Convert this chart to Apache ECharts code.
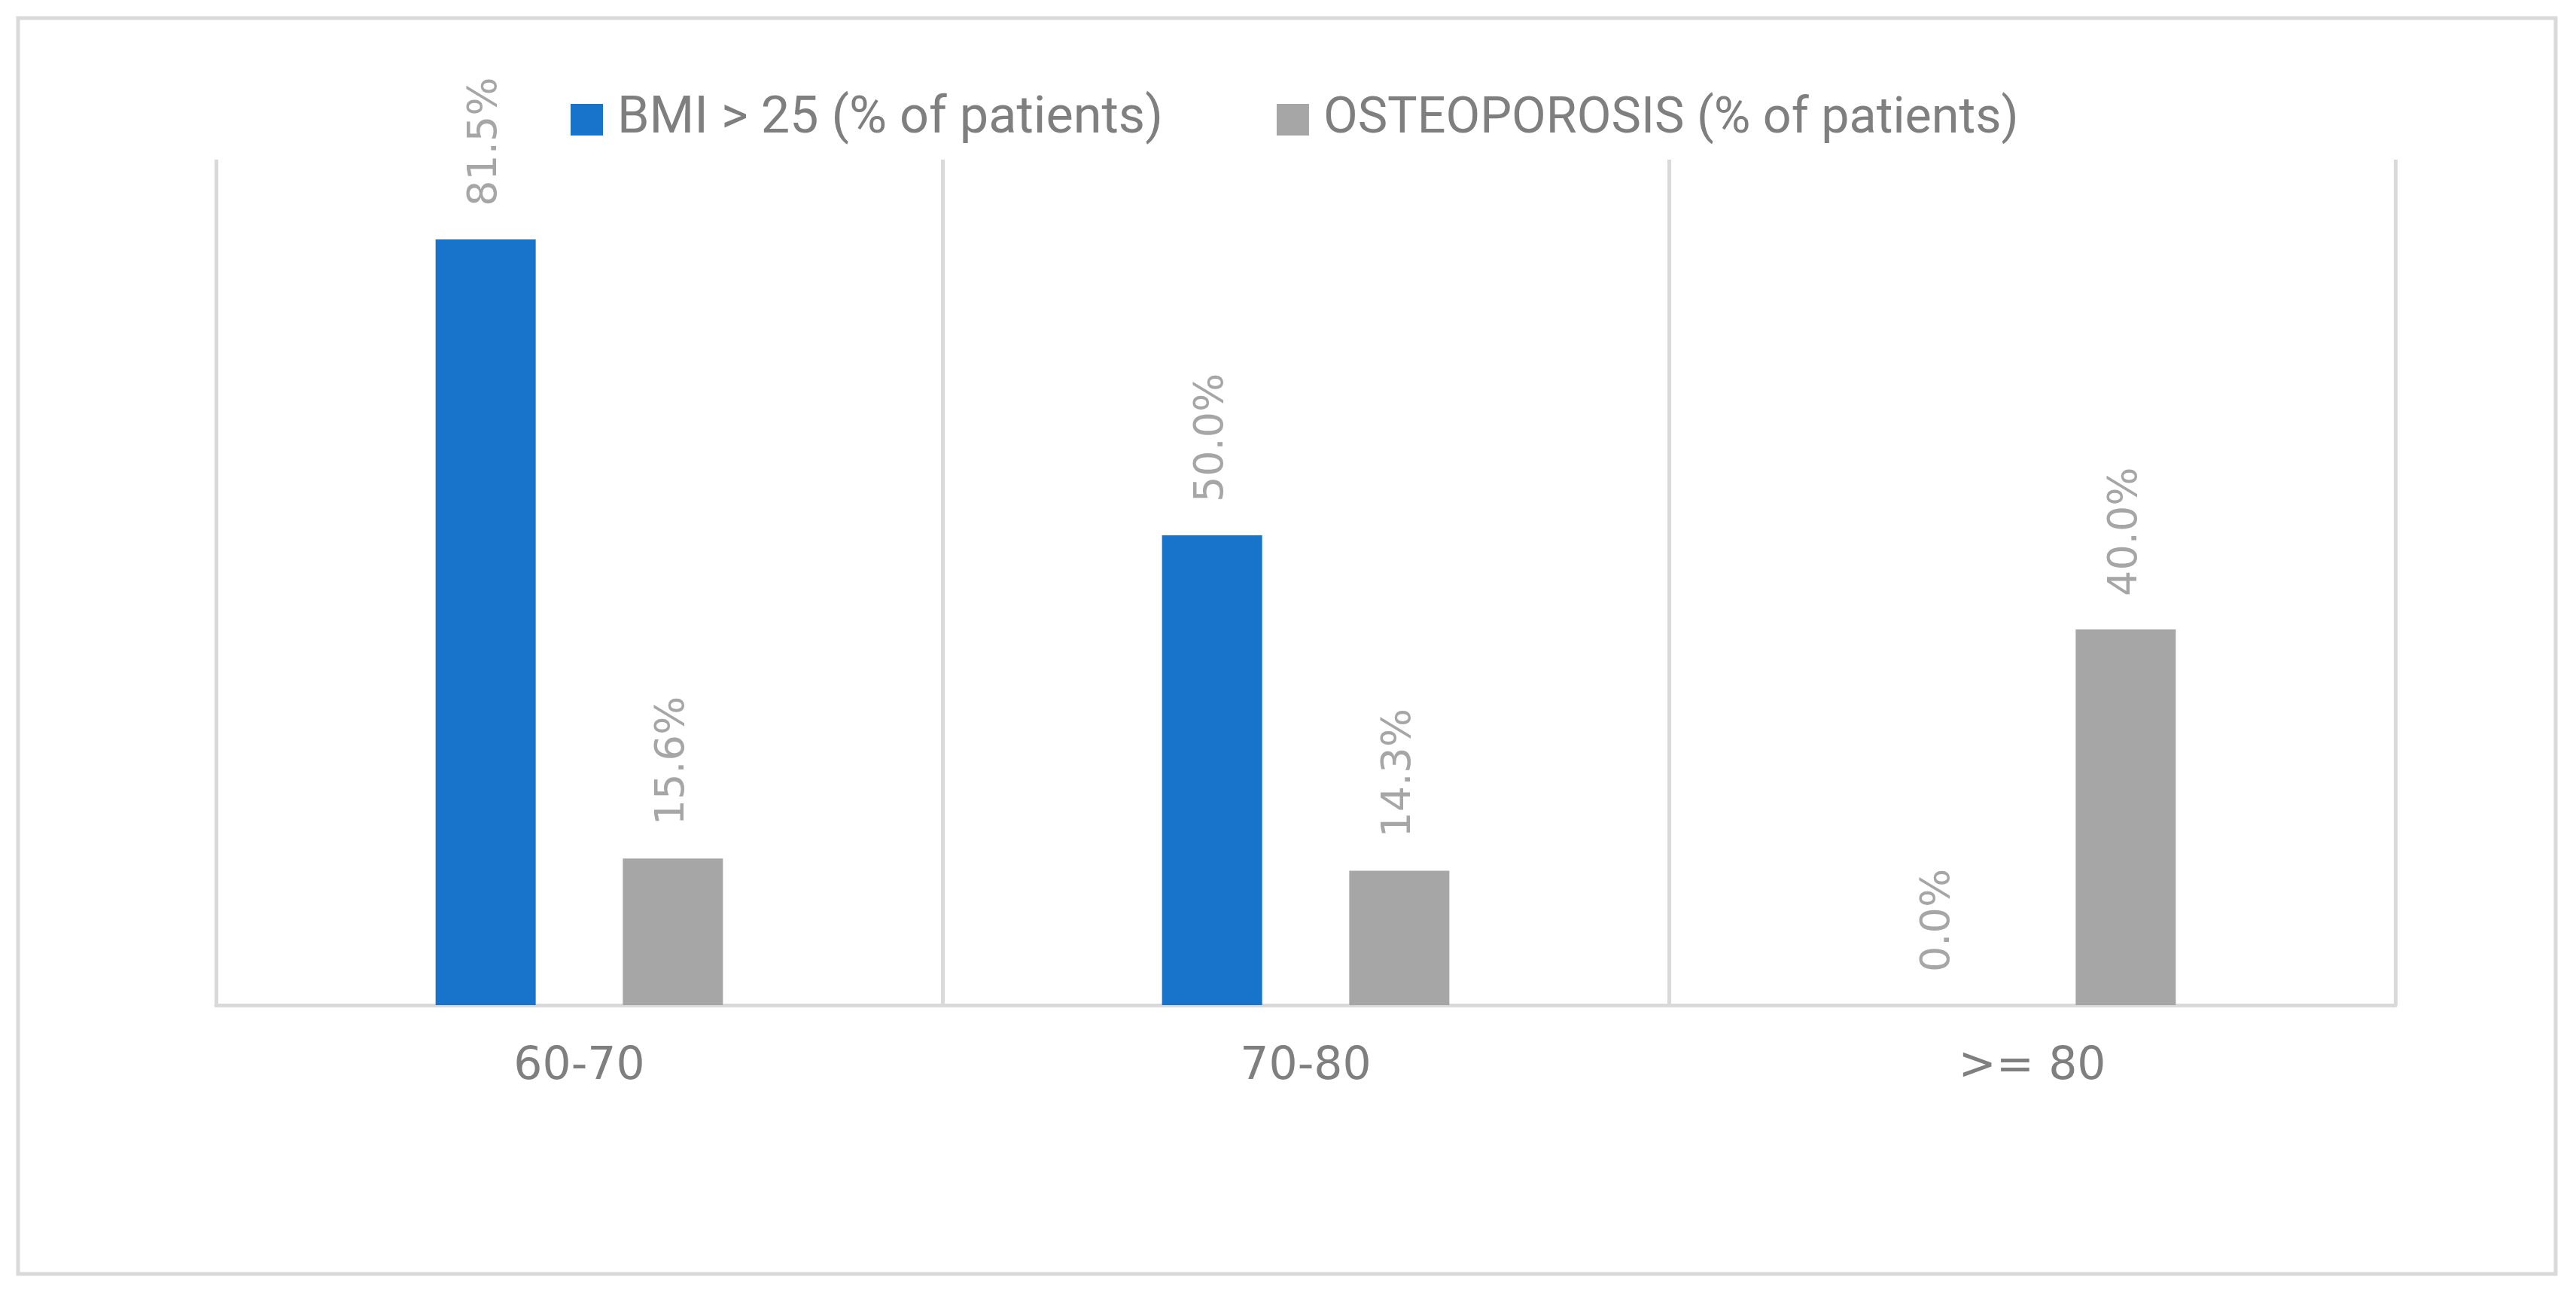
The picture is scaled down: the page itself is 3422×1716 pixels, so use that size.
<!DOCTYPE html>
<html><head><meta charset="utf-8">
<script src="https://cdn.jsdelivr.net/npm/echarts@6/dist/echarts.min.js"></script>
<style>html,body{margin:0;padding:0;background:#fff}#c{width:3422px;height:1716px}</style>
</head><body><div id="c"></div>
<script>
const categories = ['60-70', '70-80', '>= 80'];
const bmiValues = [81.5, 50.0, 0.0];
const osteoValues = [15.6, 14.3, 40.0];
const seriesNames = ['BMI > 25 (% of patients)', 'OSTEOPOROSIS (% of patients)'];
const yMin = 0, yMax = 90;

const legendFont = 'Roboto';
function fitSize(text, font, targetWidth) {
  const ctx = document.createElement('canvas').getContext('2d');
  ctx.font = '100px ' + font;
  return 100 * targetWidth / ctx.measureText(text).width;
}
const legendSize0 = fitSize(seriesNames[0], legendFont, 725);
const legendSize1 = fitSize(seriesNames[1], legendFont, 924);

const labelCfg = {
  show: true, position: 'top', distance: 44, rotate: 90,
  align: 'left', verticalAlign: 'middle',
  color: '#a6a6a6', fontFamily: 'DejaVu Sans', fontSize: 54,
  formatter: p => p.value.toFixed(1) + '%'
};

const chart = echarts.init(document.getElementById('c'), null, {renderer: 'canvas'});
chart.setOption({
  animation: false,
  backgroundColor: '#ffffff',
  graphic: [{
    type: 'rect', silent: true, z: -1,
    shape: {x: 24, y: 24, width: 3371, height: 1668},
    style: {fill: 'none', stroke: '#d9d9d9', lineWidth: 5}
  }],
  legend: {
    left: 758, top: 125, padding: 0,
    itemWidth: 43, itemHeight: 42, itemGap: 151,
    icon: 'rect',
    textStyle: {color: '#7f7f7f', fontFamily: legendFont, fontSize: legendSize0, padding: [0, 0, 0, 14]},
    data: [
      {name: seriesNames[0], textStyle: {fontSize: legendSize0}},
      {name: seriesNames[1], textStyle: {fontSize: legendSize1}}
    ]
  },
  grid: {left: 287, right: 240, top: 212, bottom: 381, containLabel: false},
  xAxis: {
    type: 'category', data: categories, boundaryGap: true,
    axisLine: {lineStyle: {color: '#d9d9d9', width: 5}},
    axisTick: {show: false},
    axisLabel: {color: '#7f7f7f', fontFamily: 'DejaVu Sans', fontSize: 60, margin: 52},
    splitLine: {show: true, lineStyle: {color: '#d9d9d9', width: 5}}
  },
  yAxis: {type: 'value', min: yMin, max: yMax, show: false},
  series: [
    {name: seriesNames[0], type: 'bar', data: bmiValues, barWidth: 133, barGap: '87%',
     itemStyle: {color: '#1874cb'}, label: labelCfg},
    {name: seriesNames[1], type: 'bar', data: osteoValues, barWidth: 133, barGap: '87%',
     itemStyle: {color: '#a6a6a6'}, label: labelCfg}
  ]
});
</script></body></html>
